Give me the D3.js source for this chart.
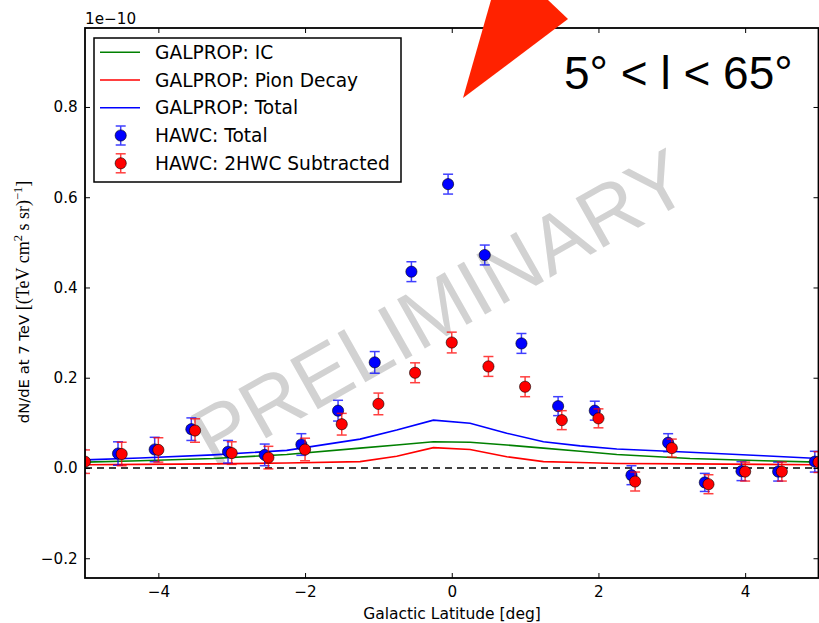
<!DOCTYPE html>
<html><head><meta charset="utf-8">
<script src="https://d3js.org/d3.v7.min.js"></script>
<style>body{margin:0;background:#fff} svg{display:block}</style>
</head><body>
<svg id="chart" width="819" height="623"></svg>
<script>
// ---------------- DATA (values in units of 1e-10) ----------------
const latitudes = [-5, -4.5, -4, -3.5, -3, -2.5, -2, -1.5, -1, -0.5, 0, 0.5, 1, 1.5, 2, 2.5, 3, 3.5, 4, 4.5, 5];
const hawcTotal = [0.015, 0.032, 0.041, 0.086, 0.036, 0.029, 0.052, 0.127, 0.234, 0.435, 0.629, 0.472, 0.276, 0.137, 0.127, -0.016, 0.056, -0.032, -0.007, -0.008, 0.014];
const hawcTotalErr = [0.026, 0.026, 0.027, 0.025, 0.025, 0.024, 0.024, 0.023, 0.024, 0.022, 0.022, 0.022, 0.022, 0.021, 0.021, 0.021, 0.020, 0.020, 0.021, 0.021, 0.023];
const hawcSub = [0.014, 0.031, 0.040, 0.083, 0.033, 0.023, 0.041, 0.097, 0.142, 0.211, 0.278, 0.225, 0.180, 0.106, 0.110, -0.030, 0.044, -0.036, -0.008, -0.008, 0.013];
const hawcSubErr = [0.026, 0.026, 0.027, 0.026, 0.025, 0.025, 0.025, 0.024, 0.024, 0.022, 0.023, 0.022, 0.022, 0.021, 0.021, 0.021, 0.020, 0.021, 0.021, 0.021, 0.023];

const galpropLat = [-5, -4.25, -3.25, -2.25, -1.25, -0.75, -0.25, 0.25, 0.75, 1.25, 1.75, 2.25, 3.25, 4.25, 5];
const galpropIC = [0.013, 0.016, 0.021, 0.030, 0.044, 0.051, 0.058, 0.057, 0.051, 0.044, 0.037, 0.030, 0.021, 0.016, 0.013];
const galpropPion = [0.007, 0.008, 0.009, 0.011, 0.014, 0.026, 0.045, 0.041, 0.025, 0.014, 0.012, 0.010, 0.009, 0.008, 0.007];
const galpropTotal = [0.018, 0.022, 0.029, 0.039, 0.064, 0.084, 0.106, 0.099, 0.077, 0.058, 0.049, 0.042, 0.035, 0.027, 0.021];

const xTicks = [-4, -2, 0, 2, 4];
const yTicks = [-0.2, 0.0, 0.2, 0.4, 0.6, 0.8];
const legendLabels = ["GALPROP: IC", "GALPROP: Pion Decay", "GALPROP: Total", "HAWC: Total", "HAWC: 2HWC Subtracted"];

// ---------------- LAYOUT ----------------
const W = 819, H = 623;
const L = 85, R = 818.5, T = 28, B = 578;
const x = d3.scaleLinear().domain([-5, 5]).range([L, R]);
const y = d3.scaleLinear().domain([-0.2438, 0.975]).range([B, T]);
const FONT = "'DejaVu Sans', sans-serif";

const svg = d3.select('#chart');
svg.append('rect').attr('width', W).attr('height', H).attr('fill', '#fff');
svg.append('defs').append('clipPath').attr('id', 'plotClip')
  .append('rect').attr('x', L).attr('y', T).attr('width', R - L).attr('height', B - T);

const plot = svg.append('g').attr('clip-path', 'url(#plotClip)');

// watermark
plot.append('text')
  .attr('transform', 'translate(454,332) rotate(-29.5)')
  .attr('text-anchor', 'middle')
  .attr('font-family', "'Liberation Sans', Arial, sans-serif")
  .attr('font-size', 82).attr('fill', '#d2d2d2')
  .text('PRELIMINARY');

// zero dashed line
plot.append('line').attr('x1', L).attr('x2', R).attr('y1', y(0)).attr('y2', y(0))
  .attr('stroke', '#000').attr('stroke-width', 1.6).attr('stroke-dasharray', '7,5');

// GALPROP lines
const line = d3.line().x((d, i) => x(galpropLat[i])).y(d => y(d));
[[galpropIC, '#008000'], [galpropPion, '#ff0000'], [galpropTotal, '#0000ff']].forEach(([arr, c]) => {
  plot.append('path').datum(arr).attr('d', line).attr('fill', 'none')
    .attr('stroke', c).attr('stroke-width', 1.6);
});

// HAWC points
function drawSeries(vals, errs, color, dx) {
  const g = plot.append('g');
  latitudes.forEach((lat, i) => {
    const cx = x(lat + dx), v = vals[i], e = errs[i];
    const eg = g.append('g').attr('stroke', color).attr('stroke-width', 1.5).attr('opacity', 0.75);
    eg.append('line').attr('x1', cx).attr('x2', cx).attr('y1', y(v - e)).attr('y2', y(v + e));
    eg.append('line').attr('x1', cx - 5).attr('x2', cx + 5).attr('y1', y(v - e)).attr('y2', y(v - e));
    eg.append('line').attr('x1', cx - 5).attr('x2', cx + 5).attr('y1', y(v + e)).attr('y2', y(v + e));
  });
  g.selectAll('circle').data(vals).join('circle')
    .attr('cx', (d, i) => x(latitudes[i] + dx)).attr('cy', d => y(d)).attr('r', 5.6)
    .attr('fill', color).attr('stroke', '#000').attr('stroke-width', 0.6);
}
drawSeries(hawcTotal, hawcTotalErr, '#0000ff', -0.05);
drawSeries(hawcSub, hawcSubErr, '#ff0000', 0);

// ---------------- AXES ----------------
const fmtX = d3.format('d'), fmtY = d3.format('.1f');
const axB = svg.append('g').attr('transform', `translate(0,${B})`)
  .call(d3.axisBottom(x).tickValues(xTicks).tickFormat(fmtX).tickSizeInner(-5).tickSizeOuter(0).tickPadding(8.5));
const axT = svg.append('g').attr('transform', `translate(0,${T})`)
  .call(d3.axisTop(x).tickValues(xTicks).tickFormat('').tickSizeInner(-5).tickSizeOuter(0));
const axL = svg.append('g').attr('transform', `translate(${L},0)`)
  .call(d3.axisLeft(y).tickValues(yTicks).tickFormat(fmtY).tickSizeInner(-5).tickSizeOuter(0).tickPadding(7.3));
const axR = svg.append('g').attr('transform', `translate(${R},0)`)
  .call(d3.axisRight(y).tickValues(yTicks).tickFormat('').tickSizeInner(-5).tickSizeOuter(0));
[axB, axT, axL, axR].forEach(a => {
  a.select('.domain').remove();
  a.selectAll('.tick line').attr('stroke', '#000').attr('stroke-width', 1);
  a.selectAll('text').attr('font-family', FONT).attr('font-size', 15.2).attr('fill', '#000');
});
// spines
svg.append('rect').attr('x', L).attr('y', T).attr('width', R - L).attr('height', B - T)
  .attr('fill', 'none').attr('stroke', '#000').attr('stroke-width', 1.8);

// offset text
svg.append('text').attr('x', L).attr('y', 23.5).attr('font-family', FONT).attr('font-size', 15.2)
  .text('1e\u221210');

// axis labels
svg.append('text').attr('x', 452).attr('y', 618.5).attr('text-anchor', 'middle')
  .attr('font-family', FONT).attr('font-size', 15.5).text('Galactic Latitude [deg]');

const yl = svg.append('text').attr('transform', 'translate(28.5,302) rotate(-90)')
  .attr('text-anchor', 'middle').attr('font-family', FONT).attr('font-size', 14.8);
yl.append('tspan').text('dN/dE at 7 TeV ');
const SERIF = "'Liberation Serif', 'DejaVu Serif', serif";
yl.append('tspan').attr('font-family', SERIF).attr('font-size', 18).text('[(TeV cm');
yl.append('tspan').attr('font-family', SERIF).attr('font-size', 12.5).attr('dy', -7).text('2');
yl.append('tspan').attr('font-family', SERIF).attr('font-size', 18).attr('dy', 7).text(' s sr)');
yl.append('tspan').attr('font-family', SERIF).attr('font-size', 12.5).attr('dy', -7).text('\u22121');
yl.append('tspan').attr('font-family', SERIF).attr('font-size', 18).attr('dy', 7).text(']');

// ---------------- LEGEND ----------------
const lg = svg.append('g');
lg.append('rect').attr('x', 94).attr('y', 38).attr('width', 307).attr('height', 144)
  .attr('fill', '#fff').attr('stroke', '#000').attr('stroke-width', 1.5);
const legendColors = ['#008000', '#ff0000', '#0000ff', '#0000ff', '#ff0000'];
const legendY = [52.3, 80, 107.7, 135.5, 163.3];
legendLabels.forEach((lab, i) => {
  const yy = legendY[i], c = legendColors[i];
  if (i < 3) {
    lg.append('line').attr('x1', 100).attr('x2', 140).attr('y1', yy).attr('y2', yy)
      .attr('stroke', c).attr('stroke-width', 1.6);
  } else {
    const eg = lg.append('g').attr('stroke', c).attr('stroke-width', 1.5).attr('opacity', 0.75);
    eg.append('line').attr('x1', 120.7).attr('x2', 120.7).attr('y1', yy - 9.5).attr('y2', yy + 9.5);
    eg.append('line').attr('x1', 115.7).attr('x2', 125.7).attr('y1', yy - 9.5).attr('y2', yy - 9.5);
    eg.append('line').attr('x1', 115.7).attr('x2', 125.7).attr('y1', yy + 9.5).attr('y2', yy + 9.5);
    lg.append('circle').attr('cx', 120.7).attr('cy', yy).attr('r', 5.6)
      .attr('fill', c).attr('stroke', '#000').attr('stroke-width', 0.6);
  }
  lg.append('text').attr('x', 155).attr('y', yy).attr('dy', '0.36em')
    .attr('font-family', FONT).attr('font-size', 18.6).text(lab);
});

// ---------------- ANNOTATIONS ----------------
svg.append('text').attr('x', 564).attr('y', 88.5)
  .attr('font-family', "'Liberation Sans', Arial, sans-serif").attr('font-size', 46)
  .text('5\u00b0 < l < 65\u00b0');

svg.append('polygon').attr('points', '463,98 491,0 548,0 568,19')
  .attr('fill', '#ff2200');
</script>
</body></html>
